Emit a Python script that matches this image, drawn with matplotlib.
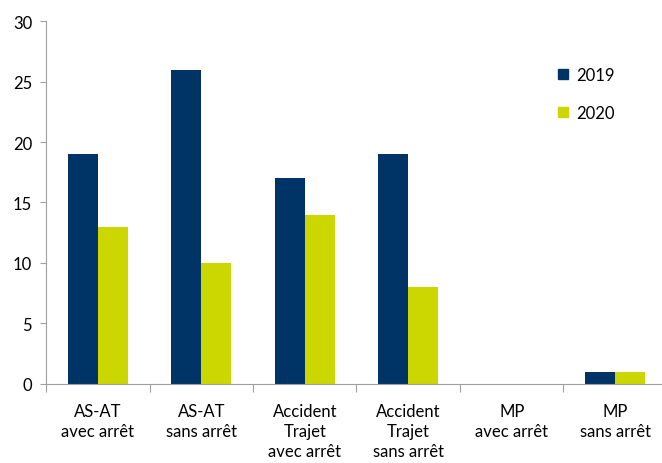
import numpy as np
import matplotlib
matplotlib.use("Agg")
from matplotlib import pyplot as plt
from matplotlib.patches import Patch

# data
categories = ["AS-AT\navec arrêt", "AS-AT\nsans arrêt", "Accident\nTrajet\navec arrêt",
              "Accident\nTrajet\nsans arrêt", "MP\navec arrêt", "MP\nsans arrêt"]
vals_2019 = [19, 26, 17, 19, 0, 1]
vals_2020 = [13, 10, 14, 8, 0, 1]
years = ["2019", "2020"]
colors = ["#003366", "#CCD600"]

plt.rcParams['font.family'] = ['Lato', 'DejaVu Sans']

fig = plt.figure(figsize=(6.62, 4.64), dpi=100)
ax = fig.add_axes([0.0695, 0.171, 0.938, 0.781])

x = np.arange(len(categories))
w = 0.29
ax.bar(x - w/2, vals_2019, w, color=colors[0])
ax.bar(x + w/2, vals_2020, w, color=colors[1])

ax.set_xlim(-0.5, len(categories) - 0.5)
ax.set_ylim(0, 30)
ax.set_yticks(range(0, 31, 5))

# category boundaries as major ticks, labels as minor ticks
ax.set_xticks(np.arange(-0.5, len(categories), 1.0))
ax.set_xticklabels([])
ax.set_xticks(x, minor=True)
ax.set_xticklabels(categories, minor=True, fontsize=12, linespacing=1.3)
ax.tick_params(axis='x', which='major', length=6, color='#A0A0A0', direction='out')
ax.tick_params(axis='x', which='minor', length=0, pad=14)
ax.tick_params(axis='y', length=4, color='#A0A0A0', labelsize=12, pad=6)

for s in ['top', 'right']:
    ax.spines[s].set_visible(False)
for s in ['left', 'bottom']:
    ax.spines[s].set_color('#A0A0A0')

handles = [Patch(color=c) for c in colors]
ax.legend(handles, years, loc='upper left', bbox_to_anchor=(0.8, 0.915), frameon=False,
          fontsize=12, handlelength=0.6, handleheight=0.6, handletextpad=0.5,
          labelspacing=1.3)

plt.savefig("out.png")
